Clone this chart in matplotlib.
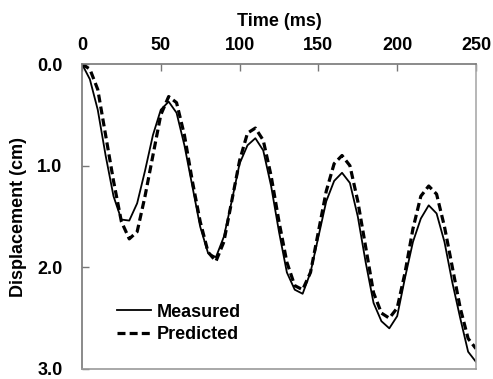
import matplotlib
matplotlib.use("Agg")
import matplotlib.pyplot as plt

plt.rcParams['font.family'] = ['Liberation Sans', 'DejaVu Sans']
plt.rcParams['font.weight'] = 'bold'

# time axis (ms)
time_ms = list(range(0, 255, 5))

# displacement (cm)
measured = [0.00, 0.15, 0.45, 0.90, 1.30, 1.53, 1.54, 1.37, 1.05, 0.70,
            0.45, 0.37, 0.48, 0.80, 1.20, 1.60, 1.86, 1.90, 1.70, 1.35,
            0.98, 0.80, 0.73, 0.85, 1.20, 1.65, 2.05, 2.22, 2.26, 2.05,
            1.70, 1.35, 1.15, 1.07, 1.17, 1.50, 1.95, 2.35, 2.53, 2.60,
            2.48, 2.10, 1.75, 1.52, 1.39, 1.47, 1.75, 2.15, 2.50, 2.83,
            2.93]
predicted = [0.00, 0.05, 0.25, 0.70, 1.15, 1.55, 1.72, 1.65, 1.30, 0.90,
             0.50, 0.32, 0.38, 0.70, 1.15, 1.55, 1.85, 1.94, 1.75, 1.35,
             0.95, 0.68, 0.63, 0.75, 1.10, 1.55, 1.95, 2.18, 2.22, 2.05,
             1.65, 1.25, 0.98, 0.90, 1.00, 1.35, 1.80, 2.25, 2.45, 2.50,
             2.40, 2.05, 1.62, 1.30, 1.20, 1.28, 1.60, 2.00, 2.40, 2.70,
             2.80]

xticks = [0, 50, 100, 150, 200, 250]
yticks = [0.0, 1.0, 2.0, 3.0]

fig = plt.figure(figsize=(4.93, 3.79), dpi=100)
ax = fig.add_axes([0.1663, 0.0264, 0.7992, 0.8047])

ax.plot(time_ms, measured, color='k', linewidth=1.3, label='Measured')
ax.plot(time_ms, predicted, color='k', linewidth=2.3, linestyle=(0, (2.5, 1.3)),
        label='Predicted')

ax.set_xlim(0, 250)
ax.set_ylim(3.0, 0.0)
ax.set_xticks(xticks)
ax.set_yticks(yticks)
ax.set_yticklabels(['%.1f' % v for v in yticks])
ax.xaxis.tick_top()
ax.xaxis.set_label_position('top')
ax.tick_params(axis='x', direction='in', length=5, width=1, color='#777777',
               labelsize=13, pad=7)
ax.tick_params(axis='y', direction='in', length=5, width=1, color='#777777',
               labelsize=13, pad=14)
for s in ax.spines.values():
    s.set_color('#777777')
    s.set_linewidth(1.2)
ax.spines['right'].set_color('#aaaaaa')
ax.spines['bottom'].set_color('#999999')

ax.set_xlabel('Time (ms)', fontsize=13, fontweight='bold', labelpad=8)
ax.set_ylabel('Displacement (cm)', fontsize=13, fontweight='bold', labelpad=7)

ax.legend(loc='lower left', bbox_to_anchor=(0.065, 0.055), frameon=False,
          fontsize=13, handlelength=1.9, handletextpad=0.3, labelspacing=0.3,
          borderpad=0)

fig.savefig('out.png', dpi=100)
